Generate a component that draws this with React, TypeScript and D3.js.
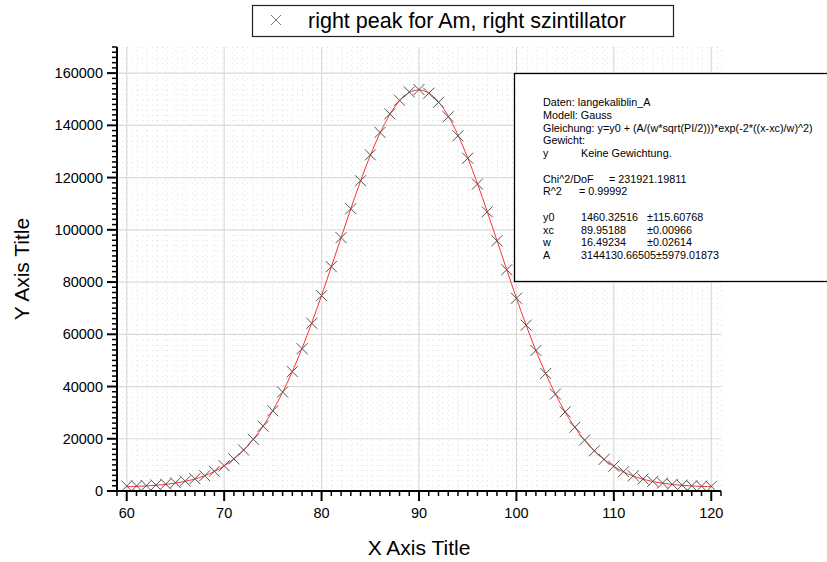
import React from "react";
import * as d3 from "d3";

const xValues = [60,61,62,63,64,65,66,67,68,69,70,71,72,73,74,75,76,77,78,79,80,81,82,83,84,85,86,87,88,89,90,91,92,93,94,95,96,97,98,99,100,101,102,103,104,105,106,107,108,109,110,111,112,113,114,115,116,117,118,119,120];
const dataY = [1900,1950,2050,2300,2650,3150,3800,4700,5850,7550,9650,12300,15700,19800,24800,30700,37900,45700,54500,64200,74800,85900,97000,108100,118800,128700,137300,144400,149600,152800,153700,152300,148800,143300,136000,127400,117500,106900,95800,84700,73800,63500,53800,45000,37100,30300,24400,19500,15400,12100,9500,7400,5800,4600,3700,3050,2600,2250,2000,1850,1750];
const fitY = [1668,1780,1947,2189,2535,3022,3699,4621,5858,7490,9607,12309,15684,19847,24876,30854,37813,45768,54674,64434,74900,85848,97019,108085,118704,128492,137078,144148,149387,152580,153587,152367,148970,143545,136320,127597,117715,107051,95950,84787,73871,63467,53782,44963,37104,30234,24355,19413,15330,12021,9380,7313,5724,4519,3625,2968,2496,2161,1928,1768,1659];

const xTicks = [60,70,80,90,100,110,120];
const yTicks = [0,20000,40000,60000,80000,100000,120000,140000,160000];

const legendLabel = "right peak for Am, right szintillator";
const statsLines: { y: number; parts: { x: number; t: string }[] }[] = [
  { y: 0, parts: [{ x: 0, t: "Daten: langekaliblin_A" }] },
  { y: 1, parts: [{ x: 0, t: "Modell: Gauss" }] },
  { y: 2, parts: [{ x: 0, t: "Gleichung: y=y0 + (A/(w*sqrt(PI/2)))*exp(-2*((x-xc)/w)^2)" }] },
  { y: 3, parts: [{ x: 0, t: "Gewicht:" }] },
  { y: 4, parts: [{ x: 0, t: "y" }, { x: 38, t: "Keine Gewichtung." }] },
  { y: 6, parts: [{ x: 0, t: "Chi^2/DoF" }, { x: 66, t: "= 231921.19811" }] },
  { y: 7, parts: [{ x: 0, t: "R^2" }, { x: 36, t: "=  0.99992" }] },
  { y: 9, parts: [{ x: 0, t: "y0" }, { x: 38, t: "1460.32516" }, { x: 104, t: "±115.60768" }] },
  { y: 10, parts: [{ x: 0, t: "xc" }, { x: 38, t: "89.95188" }, { x: 104, t: "±0.00966" }] },
  { y: 11, parts: [{ x: 0, t: "w" }, { x: 38, t: "16.49234" }, { x: 104, t: "±0.02614" }] },
  { y: 12, parts: [{ x: 0, t: "A" }, { x: 38, t: "3144130.66505±5979.01873" }] },
];

const W = 827, H = 562;
const FONT = "Arial, 'Liberation Sans', sans-serif";

export default function App() {
  const x = d3.scaleLinear().domain([59, 121]).range([117, 721]);
  const y = d3.scaleLinear().domain([0, 170000]).range([491, 47]);
  const [x0, x1] = x.range();
  const [yb, yt] = y.range();

  const xMinor = d3.range(59, 122, 1).filter((v) => v % 10 !== 0);
  const yMinor = d3.range(0, 170001, 2000).filter((v) => v % 20000 !== 0);

  const line = d3
    .line<number>()
    .x((_, i) => x(xValues[i]))
    .y((d) => y(d))
    .curve(d3.curveCatmullRom.alpha(0.5));

  const m = 5.5;

  return (
    <svg width={W} height={H} style={{ position: "absolute", left: 0, top: 0, background: "#fff" }} fontFamily={FONT}>
      <rect x={0} y={0} width={W} height={H} fill="#fff" />
      {/* minor grid */}
      <g stroke="#e2e2e2" strokeWidth={1} strokeDasharray="1 4">
        {xMinor.map((v) => (
          <line key={"xm" + v} x1={x(v) + 0.5} x2={x(v) + 0.5} y1={yb} y2={yt} />
        ))}
        {yMinor.map((v) => (
          <line key={"ym" + v} x1={x0} x2={x1} y1={y(v) + 0.5} y2={y(v) + 0.5} />
        ))}
      </g>
      {/* major grid */}
      <g stroke="#dadada" strokeWidth={1.2}>
        {xTicks.map((v) => (
          <line key={"xg" + v} x1={x(v)} x2={x(v)} y1={yb} y2={yt} />
        ))}
        {yTicks.filter((v) => v > 0).map((v) => (
          <line key={"yg" + v} x1={x0} x2={x1} y1={y(v)} y2={y(v)} />
        ))}
      </g>
      {/* fit line */}
      <path d={line(fitY) || ""} fill="none" stroke="#ff3030" strokeWidth={1} />
      {/* data markers */}
      <g stroke="#555" strokeWidth={1} fill="none">
        {dataY.map((v, i) => {
          const cx = x(xValues[i]);
          const cy = y(v);
          return (
            <path key={i} d={`M${cx - m},${cy - m}L${cx + m},${cy + m}M${cx - m},${cy + m}L${cx + m},${cy - m}`} />
          );
        })}
      </g>
      {/* axes */}
      <g stroke="#000">
        <line x1={x0} x2={x0} y1={yb + 1} y2={yt} strokeWidth={2} />
        <line x1={x0 - 1} x2={x1} y1={yb} y2={yb} strokeWidth={2} />
        {yTicks.map((v) => (
          <line key={"yt" + v} x1={x0 - 10} x2={x0} y1={y(v)} y2={y(v)} strokeWidth={2} />
        ))}
        {yMinor.map((v) => (
          <line key={"ymt" + v} x1={x0 - 5} x2={x0} y1={y(v)} y2={y(v)} strokeWidth={1.5} />
        ))}
        {xTicks.map((v) => (
          <line key={"xt" + v} x1={x(v)} x2={x(v)} y1={yb} y2={yb + 10} strokeWidth={2} />
        ))}
        {xMinor.map((v) => (
          <line key={"xmt" + v} x1={x(v)} x2={x(v)} y1={yb} y2={yb + 5} strokeWidth={1.5} />
        ))}
      </g>
      <g fontSize={14.5} fill="#000">
        {yTicks.map((v) => (
          <text key={"yl" + v} x={103} y={y(v) + 5} textAnchor="end">
            {v}
          </text>
        ))}
        {xTicks.map((v) => (
          <text key={"xl" + v} x={x(v)} y={518} textAnchor="middle">
            {v}
          </text>
        ))}
      </g>
      <text x={(x0 + x1) / 2} y={555} textAnchor="middle" fontSize={21}>
        X Axis Title
      </text>
      <text transform={`translate(29,${(yb + yt) / 2}) rotate(-90)`} textAnchor="middle" fontSize={21}>
        Y Axis Title
      </text>
      {/* legend */}
      <rect x={252.5} y={5.5} width={421} height={31} fill="#fff" stroke="#222" strokeWidth={1.2} />
      <path d={`M${276 - 5},${20 - 5}L${276 + 5},${20 + 5}M${276 - 5},${20 + 5}L${276 + 5},${20 - 5}`} stroke="#777" strokeWidth={1} />
      <text x={308} y={28} fontSize={21.5}>
        {legendLabel}
      </text>
      {/* stats box */}
      <rect x={514.5} y={73.5} width={330} height={208} fill="#fff" stroke="#000" strokeWidth={1.3} />
      <g fontSize={10.8} fill="#000">
        {statsLines.map((ln, i) => (
          <g key={i}>
            {ln.parts.map((p, j) => (
              <text key={j} x={543 + p.x} y={106 + ln.y * 12.75}>
                {p.t}
              </text>
            ))}
          </g>
        ))}
      </g>
    </svg>
  );
}
